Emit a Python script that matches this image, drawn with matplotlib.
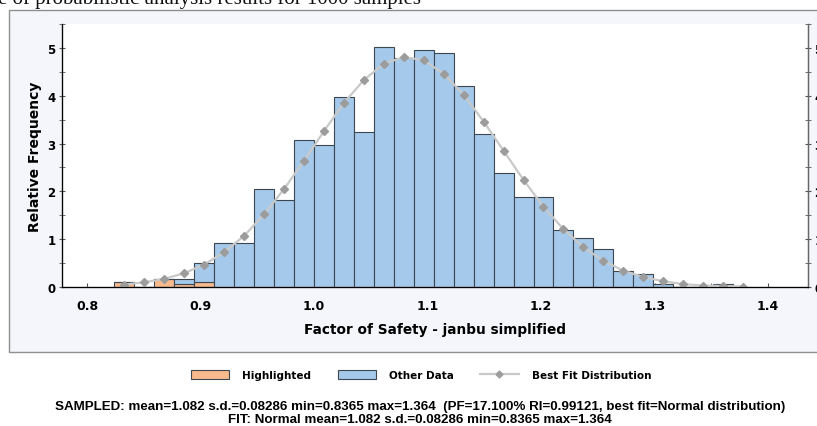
import matplotlib
matplotlib.use("Agg")
import matplotlib.pyplot as plt
import numpy as np
from matplotlib.lines import Line2D
from matplotlib.patches import Patch, Rectangle
from matplotlib.ticker import MultipleLocator

# histogram of factor of safety, 31 bins
bin_start = 0.8242
bin_width = 0.01758

highlighted = [0.11, 0, 0.17, 0.06, 0.11, 0, 0, 0, 0, 0, 0, 0, 0, 0, 0, 0,
               0, 0, 0, 0, 0, 0, 0, 0, 0, 0, 0, 0, 0, 0, 0]
other_data = [0, 0, 0, 0.11, 0.40, 0.91, 0.91, 2.05, 1.82, 3.07, 2.96, 3.98,
              3.24, 5.01, 4.78, 4.95, 4.89, 4.21, 3.19, 2.39, 1.88, 1.88, 1.19,
              1.02, 0.80, 0.34, 0.28, 0.06, 0, 0, 0.06]
# best fit (normal) read at bin centres, one extra point past the last bin
best_fit = [0.05, 0.10, 0.17, 0.29, 0.47, 0.73, 1.07, 1.52, 2.05, 2.64, 3.26,
            3.85, 4.33, 4.67, 4.81, 4.74, 4.46, 4.02, 3.46, 2.85, 2.24, 1.68,
            1.21, 0.83, 0.55, 0.34, 0.21, 0.12, 0.06, 0.03, 0.02, 0.01]

title = "e of probabilistic analysis results for 1000 samples"
xlabel = "Factor of Safety - janbu simplified"
ylabel = "Relative Frequency"
summary = [
    "SAMPLED: mean=1.082 s.d.=0.08286 min=0.8365 max=1.364  "
    "(PF=17.100% RI=0.99121, best fit=Normal distribution)",
    "FIT: Normal mean=1.082 s.d.=0.08286 min=0.8365 max=1.364",
]

ORANGE = "#f8ba8c"
BLUE = "#a5c9ea"
EDGE = "#3d4752"
FIT_LINE = "#c9c9c9"
FIT_MARK = "#9c9c9c"
PANEL = "#f4f6fb"

W, H = 817, 427
fig = plt.figure(figsize=(W / 100, H / 100), dpi=100)
fig.patch.set_facecolor("white")

# grey panel behind the chart
fig.patches.append(Rectangle((9 / W, 1 - 353 / H), 1.0, (353 - 11) / H,
                             transform=fig.transFigure, facecolor=PANEL,
                             edgecolor="#8f8f8f", linewidth=1.0, zorder=-5))

fig.text(421 / W, 1 - 4 / H, title, ha="right", va="baseline",
         fontsize=15, family="Liberation Serif", color="#111111")

ax = fig.add_axes([62 / W, 1 - 288 / H, (808 - 62) / W, (288 - 25) / H])
ax.set_facecolor("white")

n = len(other_data)
left = bin_start + bin_width * np.arange(n)
ax.bar(left, highlighted, width=bin_width, align="edge", color=ORANGE,
       edgecolor=EDGE, linewidth=0.8, zorder=2)
ax.bar(left, other_data, width=bin_width, bottom=highlighted, align="edge",
       color=BLUE, edgecolor=EDGE, linewidth=0.8, zorder=2)

centres = bin_start + bin_width * (np.arange(len(best_fit)) + 0.5)
ax.plot(centres, best_fit, color=FIT_LINE, linewidth=1.6, zorder=3)
ax.plot(centres, best_fit, linestyle="none", marker="D", markersize=4.5,
        color=FIT_MARK, zorder=4)

ax.set_xlim(0.778, 1.4352)
ax.set_ylim(0, 5.5)
ax.xaxis.set_major_locator(MultipleLocator(0.1))
ax.xaxis.set_minor_locator(MultipleLocator(0.05))
ax.yaxis.set_major_locator(MultipleLocator(1))
ax.yaxis.set_minor_locator(MultipleLocator(0.5))
ax.tick_params(axis="x", which="both", direction="in", length=3,
               color="#555555", labelsize=9, pad=9)
ax.tick_params(axis="y", which="both", direction="inout", length=5,
               color="#555555", labelsize=8.5, pad=2)
for lab in ax.get_xticklabels() + ax.get_yticklabels():
    lab.set_fontweight("bold")
ax.spines["top"].set_visible(False)
for s in ("left", "right", "bottom"):
    ax.spines[s].set_color("#666666")
    ax.spines[s].set_linewidth(1.0)

ax.set_xlabel(xlabel, fontsize=9.8, fontweight="bold", labelpad=7)
ax.set_ylabel(ylabel, fontsize=10, fontweight="bold", labelpad=4)

ax2 = ax.twinx()
ax2.set_ylim(ax.get_ylim())
ax2.yaxis.set_major_locator(MultipleLocator(1))
ax2.yaxis.set_minor_locator(MultipleLocator(0.5))
ax2.tick_params(axis="y", which="both", direction="inout", length=5,
                color="#555555", labelsize=8.5, pad=2)
for lab in ax2.get_yticklabels():
    lab.set_fontweight("bold")
ax2.spines["top"].set_visible(False)
ax2.spines["right"].set_color("#666666")

handles = [
    Patch(facecolor=ORANGE, edgecolor=EDGE, linewidth=0.8, label="Highlighted"),
    Patch(facecolor=BLUE, edgecolor=EDGE, linewidth=0.8, label="Other Data"),
    Line2D([], [], color=FIT_LINE, linewidth=1.6, marker="D", markersize=3.5,
           markerfacecolor=FIT_MARK, markeredgecolor=FIT_MARK,
           label="Best Fit Distribution"),
]
fig.legend(handles=handles, loc="center", bbox_to_anchor=(421 / W, 1 - 376 / H),
           ncol=3, frameon=False, prop={"size": 7.5, "weight": "bold"},
           handlelength=3.7, handleheight=0.85, handletextpad=1.25,
           columnspacing=2.5)

for i, line in enumerate(summary):
    fig.text(420 / W, 1 - (407 + 13 * i) / H, line, ha="center", va="center",
             fontsize=9.6, fontweight="bold",
             family=["Liberation Sans Narrow", "Liberation Sans"])

fig.savefig("out.png", dpi=100)
